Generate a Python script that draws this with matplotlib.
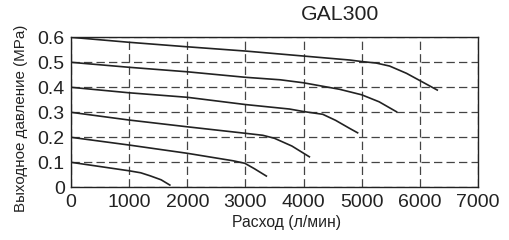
import matplotlib
matplotlib.use('Agg')
import matplotlib.pyplot as plt

plt.rcParams['font.family'] = ['Liberation Sans', 'DejaVu Sans']
plt.rcParams['lines.scale_dashes'] = False

# flow (l/min) vs outlet pressure (MPa), one curve per set pressure
flow_06 = [0, 1000, 2000, 3000, 4000, 4800, 5000, 5250, 5480, 5770, 6300]
press_06 = [0.6, 0.58, 0.562, 0.545, 0.525, 0.509, 0.503, 0.497, 0.485, 0.456, 0.389]

flow_05 = [0, 1000, 2000, 3000, 3600, 4000, 4620, 5000, 5300, 5600]
press_05 = [0.5, 0.48, 0.462, 0.44, 0.43, 0.418, 0.392, 0.37, 0.342, 0.302]

flow_04 = [0, 1000, 2000, 3000, 3760, 4000, 4330, 4550, 4790, 4930]
press_04 = [0.4, 0.378, 0.36, 0.331, 0.313, 0.303, 0.292, 0.268, 0.236, 0.218]

flow_03 = [0, 1000, 2000, 3000, 3300, 3500, 3800, 4100]
press_03 = [0.3, 0.269, 0.242, 0.216, 0.208, 0.196, 0.165, 0.122]

flow_02 = [0, 1000, 2000, 2790, 2990, 3150, 3360]
press_02 = [0.2, 0.169, 0.136, 0.106, 0.096, 0.075, 0.045]

flow_01 = [0, 1000, 1200, 1360, 1550, 1700]
press_01 = [0.1, 0.066, 0.058, 0.046, 0.03, 0.009]

x_ticks = [0, 1000, 2000, 3000, 4000, 5000, 6000, 7000]
y_ticks = [0, 0.1, 0.2, 0.3, 0.4, 0.5, 0.6]
y_labels = ['0', '0.1', '0.2', '0.3', '0.4', '0.5', '0.6']

fig = plt.figure(figsize=(5.09, 2.4), dpi=100)
ax = fig.add_axes([0.1395, 0.2196, 0.7995, 0.625])

curves = [(flow_06, press_06), (flow_05, press_05), (flow_04, press_04),
          (flow_03, press_03), (flow_02, press_02), (flow_01, press_01)]
for fx, py in curves:
    ax.plot(fx, py, color='#222222', lw=1.2)

ax.set_xlim(0, 7000)
ax.set_ylim(0, 0.6)
ax.set_xticks(x_ticks)
ax.set_yticks(y_ticks)
ax.set_yticklabels(y_labels)
ax.tick_params(length=0, labelsize=14, colors='#222222', pad=4.5)
ax.grid(True, color='#444444', lw=0.9, linestyle=(0, (6, 3)))
for s in ax.spines.values():
    s.set_color('#222222')
    s.set_linewidth(1.0)

ax.set_xlabel('Расход (л/мин)', fontsize=11.3, color='#222222')
ax.set_ylabel('Выходное давление (MPa)', fontsize=10.9, color='#222222')
ax.xaxis.set_label_coords(0.53, -0.185)
ax.yaxis.set_label_coords(-0.106, 0.459)
fig.text(0.668, 0.94, 'GAL300', fontsize=15.3, ha='center', va='center', color='#222222')

fig.savefig('out.png', dpi=100)
